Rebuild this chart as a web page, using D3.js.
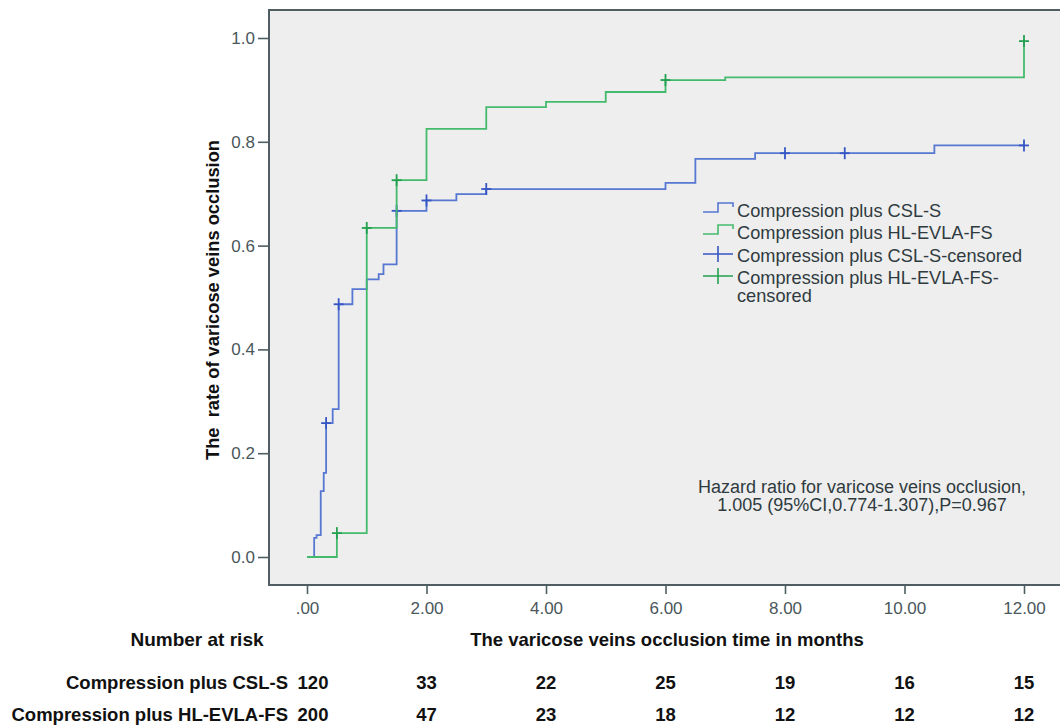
<!DOCTYPE html>
<html>
<head>
<meta charset="utf-8">
<script src="https://cdn.jsdelivr.net/npm/d3@7"></script>
<style>
  body { margin: 0; background: #fff; }
  svg text { font-family: "Liberation Sans", Arial, sans-serif; }
</style>
</head>
<body>
<div id="chart"></div>
<script>
'use strict';

// step data (months, cumulative occlusion rate)
let cslTime = [0, 0.12, 0.16, 0.23, 0.28, 0.32, 0.43, 0.53, 0.76, 1.0, 1.2, 1.28, 1.5, 2.0, 2.5, 3.0, 6.0, 6.5, 7.5, 10.5, 12];
let cslRate = [0, 0.037, 0.042, 0.127, 0.162, 0.258, 0.285, 0.487, 0.516, 0.535, 0.545, 0.564, 0.667, 0.687, 0.699, 0.709, 0.721, 0.767, 0.778, 0.793, 0.793];
let cslCensored = [0.32, 0.53, 1.5, 2.0, 3.0, 8.0, 9.0, 12];

let evlaTime = [0, 0.5, 1.0, 1.5, 2.0, 3.0, 4.0, 5.0, 6.0, 7.0, 12];
let evlaRate = [0, 0.046, 0.634, 0.726, 0.825, 0.867, 0.877, 0.896, 0.919, 0.924, 0.994];
let evlaCensored = [0.5, 1.0, 1.5, 6.0, 12];

let xTicks = [0, 2, 4, 6, 8, 10, 12];
let yTicks = [0, 0.2, 0.4, 0.6, 0.8, 1.0];

let groupNames = ["Compression plus CSL-S", "Compression plus HL-EVLA-FS"];
let riskTimes = [0, 2, 4, 6, 8, 10, 12];
let cslRisk = [120, 33, 22, 25, 19, 16, 15];
let evlaRisk = [200, 47, 23, 18, 12, 12, 12];

const width = 1060, height = 726;
const blue = "#5677d2", blueDark = "#3556c4";
const green = "#44bb6c", greenDark = "#23a14f";
const textColor = "#2f3b3f";

let svg = d3.select("#chart").append("svg")
    .attr("width", width)
    .attr("height", height);

let x = d3.scaleLinear().domain([0, 12]).range([307, 1024]);
let y = d3.scaleLinear().domain([0, 1]).range([557, 38]);

// plot frame
svg.append("rect")
    .attr("x", 269).attr("y", 10)
    .attr("width", 820).attr("height", 575)
    .attr("fill", "#eeeeee")
    .attr("stroke", "#4f5e62")
    .attr("stroke-width", 2);

// axes
let yAxis = d3.axisLeft(y).tickValues(yTicks).tickSize(11).tickPadding(3)
    .tickFormat(d3.format(".1f"));
let gy = svg.append("g").attr("transform", "translate(269,0)").call(yAxis);
let xAxis = d3.axisBottom(x).tickValues(xTicks).tickSize(9).tickPadding(5)
    .tickFormat(d => d === 0 ? ".00" : d3.format(".2f")(d));
let gx = svg.append("g").attr("transform", "translate(0,585)").call(xAxis);
[gx, gy].forEach(g => {
    g.select(".domain").remove();
    g.selectAll(".tick line").attr("stroke", "#4f5e62").attr("stroke-width", 1.6);
    g.selectAll(".tick text")
        .attr("font-size", 17)
        .attr("font-family", "Liberation Sans, Arial, sans-serif")
        .attr("fill", "#4a575b");
});
gx.selectAll(".tick text").attr("dy", 0).attr("y", 29);

// step curves
let stepLine = d3.line()
    .x(d => x(d[0]))
    .y(d => y(d[1]))
    .curve(d3.curveStepAfter);

function stepValue(times, rates, t) {
    let i = d3.bisectRight(times, t) - 1;
    return rates[Math.max(0, i)];
}

function drawGroup(times, rates, censored, color, markColor) {
    svg.append("path")
        .datum(times.map((t, i) => [t, rates[i]]))
        .attr("d", stepLine)
        .attr("fill", "none")
        .attr("stroke", color)
        .attr("stroke-width", 1.8);
    let marks = svg.append("g");
    censored.forEach(t => {
        let cx = x(t), cy = y(stepValue(times, rates, t));
        marks.append("line")
            .attr("x1", cx - 5).attr("x2", cx + 5)
            .attr("y1", cy).attr("y2", cy);
        marks.append("line")
            .attr("x1", cx).attr("x2", cx)
            .attr("y1", cy - 6).attr("y2", cy + 6);
    });
    marks.selectAll("line").attr("stroke", markColor).attr("stroke-width", 1.8);
}

drawGroup(cslTime, cslRate, cslCensored, blue, blueDark);
drawGroup(evlaTime, evlaRate, evlaCensored, green, greenDark);

// legend
let legendItems = [
    {label: ["Compression plus CSL-S"], color: blue, type: "step", base: 217},
    {label: ["Compression plus HL-EVLA-FS"], color: green, type: "step", base: 239},
    {label: ["Compression plus CSL-S-censored"], color: blueDark, type: "cross", base: 262},
    {label: ["Compression plus HL-EVLA-FS-", "censored"], color: greenDark, type: "cross", base: 284}
];
let legend = svg.append("g");
legendItems.forEach(item => {
    let b = item.base;
    if (item.type === "step") {
        legend.append("path")
            .attr("d", `M703,${b - 5}H718V${b - 14}H733V${b - 10}`)
            .attr("fill", "none")
            .attr("stroke", item.color)
            .attr("stroke-width", 1.6);
    } else {
        legend.append("path")
            .attr("d", `M703,${b - 8}H733M718,${b - 16}V${b}`)
            .attr("fill", "none")
            .attr("stroke", item.color)
            .attr("stroke-width", 1.6);
    }
    item.label.forEach((line, k) => {
        legend.append("text")
            .attr("x", 737).attr("y", b + k * 18)
            .attr("font-size", 18.2)
            .attr("fill", textColor)
            .text(line);
    });
});

// hazard ratio note
["Hazard ratio for varicose veins occlusion,", "1.005 (95%CI,0.774-1.307),P=0.967"].forEach((line, k) => {
    svg.append("text")
        .attr("x", 862).attr("y", 493 + k * 18)
        .attr("text-anchor", "middle")
        .attr("font-size", 18)
        .attr("fill", textColor)
        .text(line);
});

// axis titles
svg.append("text")
    .attr("transform", "translate(219,300) rotate(-90)")
    .attr("text-anchor", "middle")
    .attr("font-size", 18.3)
    .attr("font-weight", "bold")
    .attr("fill", "#111")
    .attr("xml:space", "preserve")
    .text("The  rate of varicose veins occlusion");

svg.append("text")
    .attr("x", 667).attr("y", 646)
    .attr("text-anchor", "middle")
    .attr("font-size", 18.5)
    .attr("font-weight", "bold")
    .attr("fill", "#111")
    .text("The varicose veins occlusion time in months");

// number at risk table
svg.append("text")
    .attr("x", 197).attr("y", 646)
    .attr("text-anchor", "middle")
    .attr("font-size", 19)
    .attr("font-weight", "bold")
    .attr("fill", "#111")
    .text("Number at risk");

[cslRisk, evlaRisk].forEach((row, r) => {
    let base = r === 0 ? 689 : 721;
    svg.append("text")
        .attr("x", 288).attr("y", base)
        .attr("text-anchor", "end")
        .attr("font-size", 18.5)
        .attr("font-weight", "bold")
        .attr("fill", "#111")
        .text(groupNames[r]);
    svg.append("g").selectAll("text")
        .data(row)
        .join("text")
        .attr("x", (d, i) => x(riskTimes[i]) + (i === 0 ? 6 : 0))
        .attr("y", base)
        .attr("text-anchor", "middle")
        .attr("font-size", 18.5)
        .attr("font-weight", "bold")
        .attr("fill", "#111")
        .text(d => d);
});
</script>
</body>
</html>
